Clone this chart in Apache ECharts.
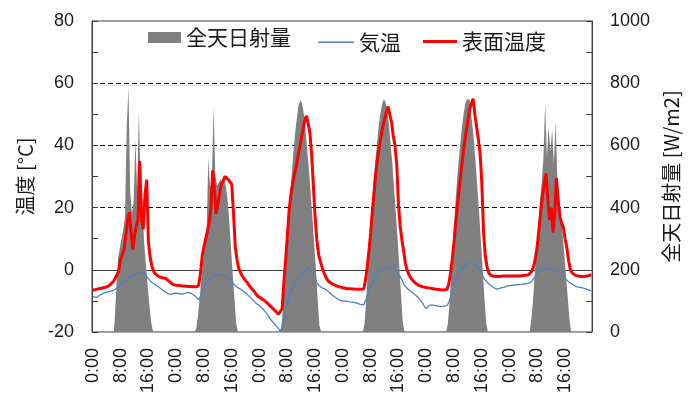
<!DOCTYPE html>
<html>
<head>
<meta charset="utf-8">
<script src="https://cdn.jsdelivr.net/npm/echarts@6/dist/echarts.min.js"></script>
<style>
  html, body { margin: 0; background: #fff; }
  #chart { width: 689px; height: 396px; }
</style>
</head>
<body>
<div id="chart"></div>
<script>
// 6 days, 30-minute steps (48 per day)
const dayCount = 6;
const slotsPerDay = 48;
const categories = [];
for (let d = 0; d < dayCount; d++) {
  for (let i = 0; i < slotsPerDay; i++) {
    categories.push(Math.floor(i / 2) + ':' + (i % 2 ? '30' : '00'));
  }
}

// 全天日射量 [W/m2]
const radiation = [
  // day 1
  0,0,0,0,0,0,0,0,0,0,0,0,0, 30,140,236,270,300,330,370,660,785,450,380,420,620,450,710,480,420,290,220,150,90,35,5, 0,0,0,0,0,0,0,0,0,0,0,0,
  // day 2
  0,0,0,0,0,0,0,0,0,0,0,0, 10,50,110,170,230,280,320,560,465,480,725,510,470,480,490,480,495,470,430,360,275,190,110,30, 0,0,0,0,0,0,0,0,0,0,0,0,
  // day 3
  0,0,0,0,0,0,0,0,0,0,0,0,0, 15,75,170,270,350,430,505,580,640,690,730,745,735,700,650,580,520,440,370,280,200,100,20, 0,0,0,0,0,0,0,0,0,0,0,0,
  // day 4
  0,0,0,0,0,0,0,0,0,0,0,0,0, 30,110,210,310,400,480,540,600,655,700,730,748,740,710,670,600,540,460,380,300,210,120,30, 0,0,0,0,0,0,0,0,0,0,0,0,
  // day 5
  0,0,0,0,0,0,0,0,0,0,0,0,0, 30,100,200,300,390,470,540,600,655,700,735,750,745,715,670,610,540,460,380,290,200,110,30, 0,0,0,0,0,0,0,0,0,0,0,0,
  // day 6
  0,0,0,0,0,0,0,0,0,0,0,0,0, 40,100,190,260,340,420,480,560,735,560,660,580,650,540,675,500,440,380,320,250,180,110,40, 0,0,0,0,0,0,0,0,0,0,0,0
];

// 気温 [°C]
const airTemp = [
  -8.6,-8.8,-8.9,-8.6,-8.2,-7.9,-7.6,-7.4,-7.2,-7.0,-6.9,-6.8, -6.6,-6.3,-5.8,-5.3,-4.8,-4.4,-4.0,-3.5,-3.0,-2.6,-2.2,-2.0,
  -1.7,-1.5,-1.2,-1.0,-0.8,-1.1,-1.6,-2.2,-2.9,-3.6,-4.2,-4.5, -4.9,-5.2,-5.6,-6.0,-6.5,-6.9,-7.3,-7.6,-7.9,-8.0,-7.8,-7.5,
  -7.5,-7.6,-7.7,-7.8,-7.8,-7.6,-7.4,-7.3,-7.4,-7.7,-8.1,-8.5, -9.0,-9.7,-9.8,-7.5,-5.5,-4.5,-3.7,-3.0,-2.5,-2.0,-1.6,-1.5,
  -1.6,-1.7,-1.8,-1.8,-1.9,-2.0,-2.5,-3.0,-3.8,-4.5,-5.2,-5.6, -5.9,-6.2,-6.6,-7.0,-7.5,-8.0,-8.5,-9.0,-9.6,-10.2,-10.8,-11.3,
  -11.5,-12.0,-12.6,-13.3,-14.0,-14.8,-15.6,-16.4,-17.0,-17.6,-18.2,-19.0, -19.8,-18.5,-15.5,-12.5,-10.5,-8.5,-7.0,-5.8,-4.8,-4.0,-3.3,-2.6,
  -1.8,-1.0,-0.4,0.1,0.3,0.1,-0.6,-1.5,-2.8,-4.0,-5.0,-5.6, -5.8,-6.0,-6.3,-6.7,-7.2,-7.7,-8.2,-8.6,-9.0,-9.4,-9.8,-10.1,
  -10.1,-10.0,-10.1,-10.2,-10.3,-10.3,-10.4,-10.5,-10.7,-10.9,-11.1,-11.3, -11.3,-10.0,-8.3,-6.5,-5.0,-4.0,-3.0,-2.2,-1.4,-0.7,-0.1,0.2,
  0.5,0.7,0.9,1.0,0.7,0.2,-0.3,-0.8,-1.5,-2.3,-3.3,-4.6, -5.4,-6.0,-6.5,-6.9,-7.3,-7.7,-8.2,-8.7,-9.3,-10.0,-10.8,-11.8,
  -12.5,-12.0,-11.4,-11.3,-11.4,-11.5,-11.6,-11.7,-11.8,-11.8,-11.7,-11.6, -11.5,-10.5,-9.1,-6.5,-4.2,-2.8,-1.7,-1.0,-0.2,0.6,1.1,1.6,
  2.0,2.4,2.3,2.0,1.6,1.1,0.5,0.0,-1.2,-2.5,-3.3,-4.0, -4.6,-5.0,-5.4,-5.8,-6.1,-6.2,-6.0,-5.8,-5.7,-5.6,-5.4,-5.2,
  -5.1,-5.0,-5.0,-4.9,-4.9,-4.8,-4.8,-4.7,-4.6,-4.5,-4.5,-4.4, -4.3,-3.6,-2.7,-2.0,-1.2,-0.4,0.0,0.2,0.3,0.4,0.4,0.3,
  0.2,0.1,-0.1,-0.4,-0.8,-1.3,-1.7,-2.2,-2.8,-3.4,-3.9,-4.3, -4.7,-5.0,-5.3,-5.5,-5.6,-5.7,-5.8,-6.0,-6.2,-6.4,-6.6,-6.8
];

// 表面温度 [°C]
const surfaceTemp = [
  -6.6,-6.5,-6.3,-6.2,-6.0,-5.9,-5.8,-5.7,-5.5,-5.2,-4.8,-4.3, -3.6,-2.5,-1.5,0.0,3.5,5.0,6.5,11.0,16.0,18.5,12.0,6.5,
  11.0,14.0,16.0,35.0,17.0,13.0,24.0,29.0,9.0,4.0,1.0,-0.5, -1.3,-1.8,-2.2,-2.4,-2.6,-2.7,-2.8,-3.2,-3.7,-4.2,-4.7,-5.0,
  -5.0,-5.0,-5.1,-5.1,-5.2,-5.2,-5.3,-5.3,-5.4,-5.4,-5.5,-5.5, -5.5,-4.8,-1.0,4.5,7.5,10.0,12.5,15.0,20.0,32.0,26.0,18.0,
  21.0,24.5,27.5,28.5,30.0,30.5,29.0,28.5,27.5,18.0,7.5,3.3, 0.5,-0.8,-2.0,-2.8,-3.5,-4.2,-5.0,-5.8,-6.3,-7.0,-7.8,-8.5,
  -9.0,-9.2,-9.5,-10.0,-10.5,-11.0,-11.6,-12.1,-12.6,-13.2,-13.8,-14.3, -14.5,-12.5,-4.0,3.0,11.0,19.0,24.0,27.5,30.5,33.0,36.0,39.0,
  42.0,45.0,48.0,49.5,47.0,44.0,37.0,27.0,17.0,9.5,5.0,2.8, 0.8,-0.8,-2.2,-3.2,-3.9,-4.3,-4.6,-4.9,-5.1,-5.3,-5.5,-5.7,
  -5.8,-5.9,-6.0,-6.0,-6.1,-6.1,-6.2,-6.2,-6.3,-6.3,-6.3,-6.4, -6.2,-3.5,1.0,6.0,12.0,19.0,25.0,31.0,36.0,39.5,43.0,46.0,
  48.5,50.5,52.5,53.0,47.5,43.0,40.0,34.0,21.0,14.0,9.5,6.0, 2.0,-0.2,-1.5,-2.5,-3.3,-3.9,-4.4,-4.8,-5.1,-5.3,-5.5,-5.6,
  -5.7,-5.8,-5.9,-6.0,-6.1,-6.2,-6.3,-6.3,-6.4,-6.4,-6.5,-6.5, -6.3,-4.5,-1.0,3.5,9.0,15.0,21.0,26.0,31.5,36.0,40.5,44.5,
  48.0,51.5,53.5,55.0,50.0,46.0,42.0,37.5,28.0,12.0,4.5,1.0, -1.0,-1.7,-2.0,-2.1,-2.2,-2.2,-2.2,-2.1,-2.1,-2.0,-2.0,-2.0,
  -2.0,-2.0,-2.0,-2.0,-2.0,-2.0,-1.9,-1.9,-1.8,-1.8,-1.7,-1.6, -1.2,-0.3,1.5,4.0,8.0,13.5,19.0,24.0,28.0,31.0,23.0,16.0,
  20.0,12.0,18.0,29.5,22.0,17.0,15.0,13.5,10.0,7.0,3.0,0.0, -1.0,-1.5,-1.8,-2.0,-2.1,-2.2,-2.2,-2.2,-2.1,-2.0,-1.8,-1.5
];

const numFont = 'Liberation Sans';
const cjkFont = 'Noto Sans CJK JP';
const ink = '#1a1a1a';
const frame = '#404040';
const legendText = { fontFamily: cjkFont, fontSize: 21, color: ink };

// one legend per entry so each icon gets its own height (bar block vs thin / thick line)
function legendEntry(name, left, width, height) {
  return {
    data: [name], left: left, top: 27 + (11 - height) / 2, padding: 0,
    icon: 'rect', itemWidth: width, itemHeight: height, textStyle: legendText
  };
}

const chart = echarts.init(document.getElementById('chart'));
chart.setOption({
  animation: false,
  grid: {
    left: 92, top: 21, width: 503, height: 313,
    show: true, borderColor: frame, borderWidth: 1
  },
  legend: [
    legendEntry('全天日射量', 148, 33, 11),
    legendEntry('気温', 318, 36, 1.5),
    legendEntry('表面温度', 423, 34, 3)
  ],
  xAxis: {
    type: 'category',
    data: categories,
    axisLine: { lineStyle: { color: frame } },
    axisTick: { show: false },
    axisLabel: { interval: 15, rotate: 90, margin: 16, fontFamily: numFont, fontSize: 18, color: ink }
  },
  yAxis: [
    {
      type: 'value', min: -20, max: 80, interval: 20, position: 'left',
      name: '温度 [°C]', nameLocation: 'middle', nameRotate: 90, nameGap: 57,
      nameTextStyle: { fontFamily: cjkFont, fontSize: 20, color: ink },
      axisLine: { show: true, lineStyle: { color: frame } },
      axisTick: { show: true, inside: true, length: 6, lineStyle: { color: frame } },
      minorTick: { show: true, splitNumber: 2, length: 6, lineStyle: { color: frame } },
      axisLabel: { margin: 18, fontFamily: numFont, fontSize: 18, color: ink },
      splitLine: { show: true, showMinLine: false, showMaxLine: false, lineStyle: { color: '#000', type: [5, 3], width: 1 } }
    },
    {
      type: 'value', min: 0, max: 1000, interval: 200, position: 'right',
      name: '全天日射量 [W/m2]', nameLocation: 'middle', nameRotate: 90, nameGap: 44,
      nameTextStyle: { fontFamily: cjkFont, fontSize: 20, color: ink },
      axisLine: { show: true, lineStyle: { color: frame } },
      axisTick: { show: true, inside: true, length: 6, lineStyle: { color: frame } },
      minorTick: { show: true, splitNumber: 2, length: 6, lineStyle: { color: frame } },
      axisLabel: { margin: 18, fontFamily: numFont, fontSize: 18, color: ink, formatter: (v) => String(v) },
      splitLine: { show: false }
    }
  ],
  series: [
    {
      // stepped area = 30-min histogram, reads as solid grey like the source
      name: '全天日射量', type: 'line', yAxisIndex: 1, data: radiation,
      step: 'middle', symbol: 'none',
      lineStyle: { width: 0 }, itemStyle: { color: '#808080' },
      areaStyle: { color: '#808080', opacity: 1 }
    },
    {
      name: '気温', type: 'line', yAxisIndex: 0, data: airTemp,
      symbol: 'none', itemStyle: { color: '#4F81BD' }, lineStyle: { color: '#4F81BD', width: 1.3 }
    },
    {
      name: '表面温度', type: 'line', yAxisIndex: 0, data: surfaceTemp,
      symbol: 'none', itemStyle: { color: '#FF0000' }, lineStyle: { color: '#FF0000', width: 3 }
    }
  ]
});
</script>
</body>
</html>
